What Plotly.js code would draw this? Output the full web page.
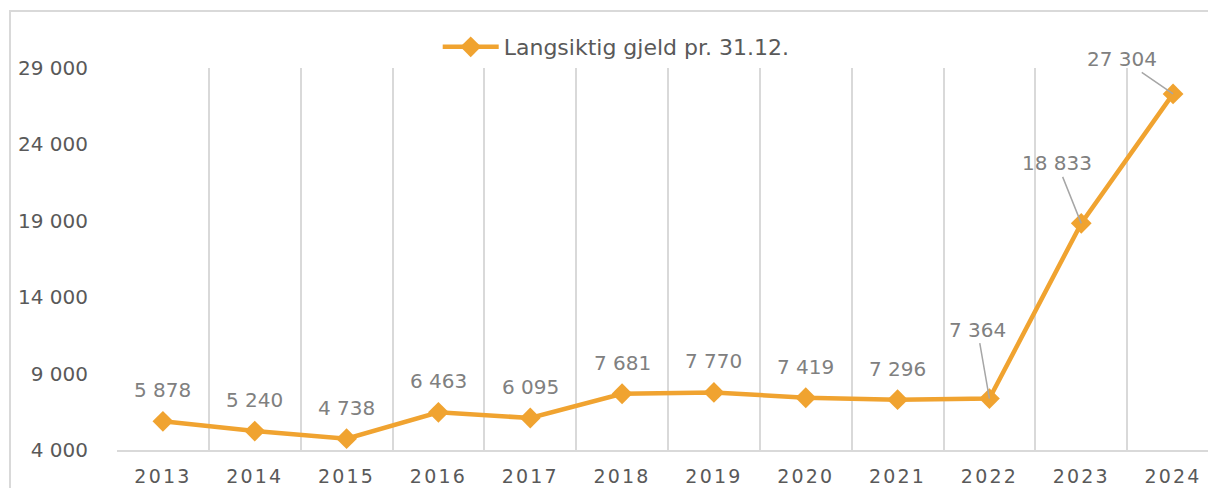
<!DOCTYPE html>
<html>
<head>
<meta charset="utf-8">
<script src="https://cdn.plot.ly/plotly-3.0.1.min.js"></script>
<style>
  html, body { margin: 0; padding: 0; overflow: hidden; background: #fff; }
  #frame { position: absolute; left: 9px; top: 10px; width: 1400px; height: 700px; border: 2px solid #d9d9d9; pointer-events: none; z-index: 5; }
  #chart { position: absolute; left: 0; top: 0; }
  .xtick text { letter-spacing: 2.2px; }
</style>
</head>
<body>
<div id="chart"></div>
<div id="frame"></div>
<script>
const years = ['2013','2014','2015','2016','2017','2018','2019','2020','2021','2022','2023','2024'];
const debt = [5878, 5240, 4738, 6463, 6095, 7681, 7770, 7419, 7296, 7364, 18833, 27304];
const yTicks = [4000, 9000, 14000, 19000, 24000, 29000];
const yTickText = ['4 000', '9 000', '14 000', '19 000', '24 000', '29 000'];
const seriesName = 'Langsiktig gjeld pr. 31.12.';

const fmt = v => String(v).replace(/\B(?=(\d{3})+(?!\d))/g, ' ');

// leader-line offsets (px) for the last three labels
const leader = { '2022': [-12, -69], '2023': [-24, -60], '2024': [-51, -35] };

const annotations = years.map((yr, i) => {
  const base = {
    x: i, y: debt[i], xref: 'x', yref: 'y', text: fmt(debt[i]),
    font: { family: 'DejaVu Sans, Verdana, sans-serif', size: 20, color: '#808080' }
  };
  if (leader[yr]) {
    return Object.assign(base, {
      showarrow: true, ax: leader[yr][0], ay: leader[yr][1],
      arrowhead: 0, arrowwidth: 1.5, arrowcolor: '#a6a6a6', standoff: 0
    });
  }
  return Object.assign(base, { showarrow: false, yshift: 31 });
});

const trace = {
  x: years, y: debt, type: 'scatter', mode: 'lines+markers', name: seriesName,
  line: { color: '#F0A330', width: 4.5 },
  marker: { symbol: 'diamond', size: 16, color: '#F0A330' },
  cliponaxis: false
};

const layout = {
  width: 1230, height: 488,
  margin: { l: 117, r: 11, t: 68, b: 38 },
  paper_bgcolor: '#fff', plot_bgcolor: '#fff',
  font: { family: 'DejaVu Sans, Verdana, sans-serif', size: 19, color: '#595959' },
  showlegend: true,
  legend: {
    orientation: 'h', x: 0.453, xanchor: 'center', y: 1.055, yanchor: 'middle',
    itemwidth: 56,
    font: { size: 22, color: '#595959' }, bgcolor: 'rgba(0,0,0,0)'
  },
  xaxis: {
    type: 'category', range: [-0.5, 11.5],
    tickson: 'boundaries', showgrid: true, gridcolor: '#d9d9d9', gridwidth: 2,
    showline: true, linecolor: '#d9d9d9', linewidth: 2,
    ticks: '', ticklabelstandoff: 8,
    tickfont: { size: 19, color: '#595959' }, zeroline: false, fixedrange: true
  },
  yaxis: {
    range: [4000, 29000], tickvals: yTicks, ticktext: yTickText,
    showgrid: false, zeroline: false, showline: false, ticks: '',
    ticklabelstandoff: 28, tickfont: { size: 20, color: '#595959' }, fixedrange: true
  },
  annotations: annotations
};

Plotly.newPlot('chart', [trace], layout, { staticPlot: true, displayModeBar: false });
</script>
</body>
</html>
